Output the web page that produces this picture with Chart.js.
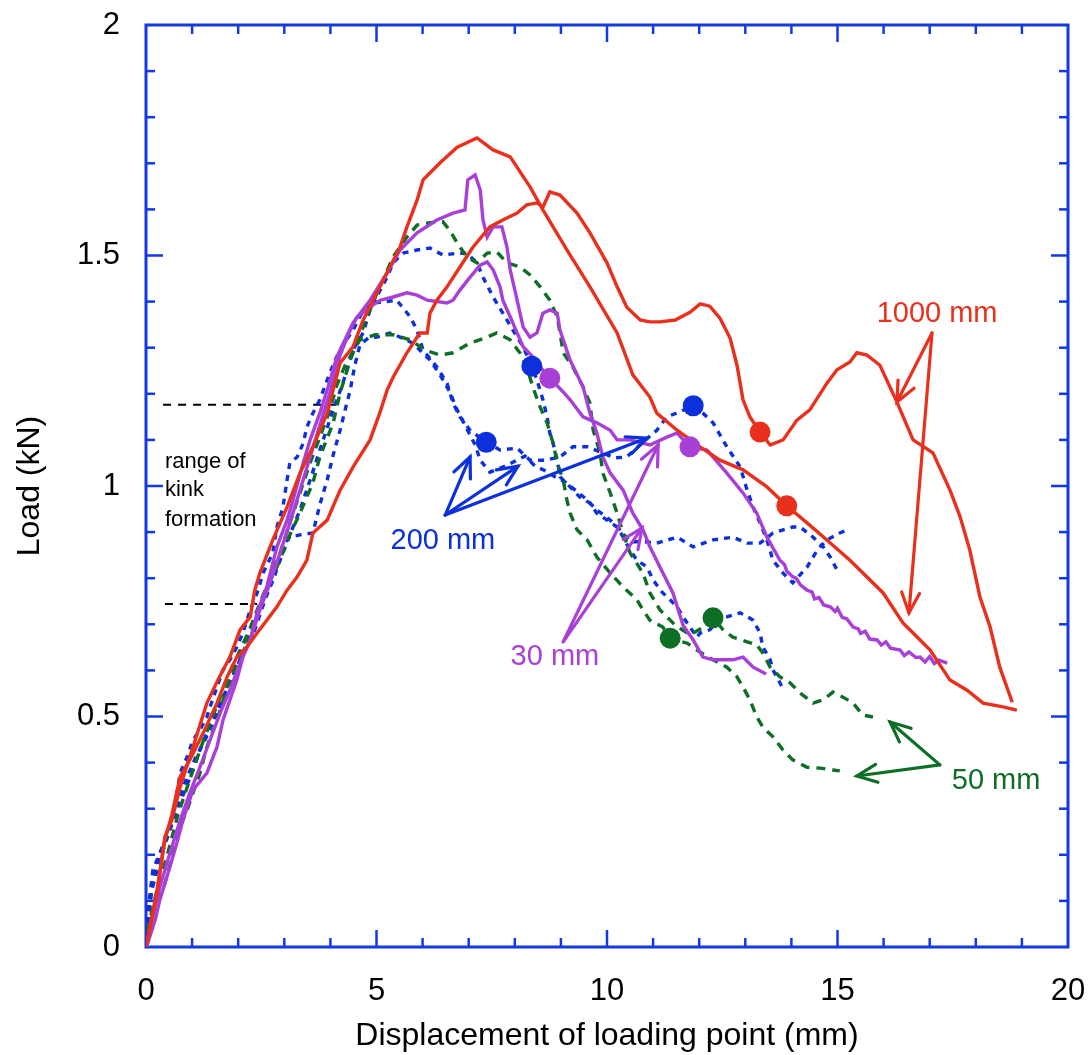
<!DOCTYPE html>
<html>
<head>
<meta charset="utf-8">
<title>Load vs displacement</title>
<script src="https://cdn.jsdelivr.net/npm/chart.js@4.4.1/dist/chart.umd.min.js"></script>
<style>
  html, body { margin: 0; padding: 0; background: #fff; }
  #wrap { width: 1092px; height: 1055px; }
</style>
</head>
<body>
<div id="wrap"><canvas id="loadChart" width="1092" height="1055"></canvas></div>
<script>
// load–displacement curves, [displacement mm, load kN]
const red1000a = [[0,0],[0.24,0.117],[0.41,0.239],[0.56,0.275],[0.74,0.347],[1.02,0.434],[1.32,0.529],[1.56,0.579],[1.82,0.629],[2.04,0.688],[2.26,0.716],[2.36,0.774],[2.47,0.811],[2.75,0.883],[3.06,0.954],[3.34,1.028],[3.62,1.085],[3.93,1.158],[4.21,1.267],[4.49,1.302],[4.71,1.36],[5.01,1.419],[5.29,1.475],[5.51,1.518],[5.66,1.562],[5.88,1.62],[6.01,1.664],[6.38,1.701],[6.75,1.735],[7.18,1.755],[7.53,1.729],[7.90,1.714],[8.33,1.649],[8.61,1.599],[9.13,1.512],[9.63,1.432],[10.22,1.332],[10.56,1.241],[10.93,1.193],[11.08,1.158],[11.52,1.121],[12.02,1.085],[12.45,1.056],[12.95,1.035],[13.47,0.998],[13.90,0.957],[14.34,0.92],[14.77,0.883],[15.27,0.839],[15.99,0.768],[16.42,0.703],[16.64,0.681],[17.01,0.644],[17.44,0.579],[17.81,0.557],[18.16,0.529],[18.59,0.521],[18.89,0.514]];
const red1000b = [[0,0],[0.24,0.124],[0.41,0.232],[0.56,0.286],[0.74,0.369],[0.95,0.406],[1.24,0.464],[1.54,0.529],[1.76,0.586],[1.97,0.629],[2.19,0.651],[2.41,0.681],[2.62,0.709],[2.84,0.738],[3.06,0.774],[3.28,0.803],[3.49,0.839],[3.62,0.898],[3.93,0.926],[4.21,0.991],[4.49,1.041],[4.86,1.1],[5.07,1.158],[5.23,1.208],[5.36,1.236],[5.66,1.289],[5.94,1.332],[6.10,1.332],[6.16,1.375],[6.31,1.403],[6.53,1.432],[6.81,1.475],[7.09,1.518],[7.46,1.562],[7.74,1.577],[8.05,1.592],[8.26,1.61],[8.48,1.614],[8.61,1.605],[8.76,1.638],[8.98,1.631],[9.35,1.592],[9.63,1.549],[10.0,1.484],[10.22,1.432],[10.43,1.388],[10.72,1.36],[10.93,1.356],[11.15,1.356],[11.48,1.36],[11.80,1.377],[12.02,1.395],[12.23,1.39],[12.45,1.364],[12.67,1.321],[12.82,1.262],[12.95,1.187],[13.10,1.15],[13.32,1.117],[13.54,1.089],[13.82,1.1],[14.12,1.143],[14.40,1.165],[14.77,1.223],[14.99,1.252],[15.27,1.269],[15.42,1.289],[15.64,1.284],[15.92,1.262],[16.29,1.182],[16.64,1.1],[17.07,1.072],[17.44,0.991],[17.66,0.933],[17.87,0.861],[18.09,0.759],[18.31,0.694],[18.52,0.607],[18.79,0.531]];
const purple30a = [[0,0],[0.04,0.009],[0.20,0.059],[0.30,0.102],[0.52,0.174],[0.67,0.226],[0.80,0.275],[1.02,0.341],[1.32,0.377],[1.54,0.434],[1.67,0.492],[1.82,0.536],[1.97,0.579],[2.10,0.629],[2.26,0.666],[2.41,0.725],[2.62,0.781],[2.84,0.868],[3.06,0.926],[3.19,0.97],[3.41,1.05],[3.56,1.1],[3.77,1.158],[3.93,1.208],[4.14,1.28],[4.49,1.354],[4.86,1.403],[5.23,1.462],[5.51,1.512],[5.88,1.549],[6.31,1.577],[6.66,1.592],[6.92,1.599],[6.98,1.664],[7.14,1.675],[7.25,1.642],[7.31,1.577],[7.40,1.54],[7.53,1.562],[7.72,1.562],[7.83,1.518],[7.90,1.469],[8.05,1.403],[8.18,1.345],[8.33,1.323],[8.48,1.332],[8.61,1.375],[8.76,1.382],[8.92,1.375],[8.98,1.338],[9.20,1.273],[9.48,1.215],[9.63,1.158],[9.78,1.115],[9.91,1.063],[10.07,1.028],[10.35,0.991],[10.56,0.941],[10.78,0.905],[10.93,0.868],[11.15,0.824],[11.43,0.768],[11.65,0.698],[11.87,0.666],[12.08,0.629],[12.30,0.623],[12.73,0.623],[12.95,0.629],[13.17,0.607],[13.45,0.592]];
const purple30b = [[0,0],[0.15,0.069],[0.30,0.13],[0.52,0.204],[0.74,0.275],[0.95,0.334],[1.17,0.39],[1.39,0.449],[1.61,0.508],[1.82,0.557],[2.04,0.616],[2.26,0.666],[2.47,0.731],[2.69,0.79],[2.91,0.855],[3.12,0.92],[3.34,0.991],[3.56,1.063],[3.77,1.132],[3.99,1.202],[4.21,1.284],[4.43,1.338],[4.58,1.367],[4.86,1.388],[5.08,1.403],[5.36,1.41],[5.66,1.419],[5.88,1.414],[6.10,1.403],[6.53,1.397],[6.66,1.403],[6.81,1.425],[7.03,1.453],[7.25,1.479],[7.40,1.486],[7.53,1.469],[7.68,1.432],[7.74,1.403],[7.90,1.367],[8.05,1.332],[8.18,1.302],[8.39,1.28],[8.55,1.258],[8.76,1.234],[9.05,1.204],[9.20,1.187],[9.48,1.15],[9.78,1.137],[10.07,1.121],[10.22,1.1],[10.50,1.1],[10.93,1.089],[11.30,1.106],[11.52,1.115],[11.80,1.085],[12.17,1.078],[12.60,1.028],[12.95,0.985],[13.25,0.941],[13.47,0.889],[13.75,0.839],[13.85,0.83],[13.9,0.815],[14.03,0.803],[14.1,0.8],[14.2,0.785],[14.34,0.774],[14.45,0.77],[14.5,0.755],[14.6,0.758],[14.7,0.742],[14.84,0.738],[14.95,0.728],[15.0,0.735],[15.1,0.715],[15.2,0.712],[15.34,0.694],[15.45,0.69],[15.5,0.68],[15.6,0.685],[15.7,0.668],[15.86,0.666],[15.95,0.655],[16.05,0.662],[16.15,0.648],[16.36,0.644],[16.45,0.632],[16.55,0.64],[16.7,0.628],[16.79,0.629],[16.9,0.618],[17.0,0.63],[17.1,0.615],[17.2,0.622],[17.38,0.616]];
const green50a = [[0,0],[0.09,0.048],[0.20,0.091],[0.37,0.124],[0.52,0.178],[0.74,0.26],[0.89,0.297],[1.02,0.334],[1.17,0.377],[1.32,0.434],[1.54,0.492],[1.76,0.564],[1.97,0.616],[2.19,0.672],[2.41,0.716],[2.54,0.759],[2.69,0.796],[2.84,0.824],[3.12,0.894],[3.34,0.941],[3.62,1.007],[3.77,1.063],[4.06,1.137],[4.21,1.202],[4.43,1.273],[4.71,1.345],[4.92,1.397],[5.14,1.447],[5.36,1.497],[5.66,1.54],[5.88,1.566],[6.16,1.571],[6.44,1.573],[6.59,1.555],[6.75,1.527],[6.96,1.497],[7.18,1.484],[7.40,1.505],[7.61,1.508],[7.83,1.484],[8.11,1.475],[8.33,1.458],[8.55,1.432],[8.76,1.403],[8.92,1.367],[8.98,1.332],[9.05,1.289],[9.26,1.258],[9.48,1.215],[9.63,1.18],[9.70,1.121],[9.85,1.072],[9.91,1.028],[10.07,0.985],[10.22,0.941],[10.35,0.898],[10.50,0.855],[10.78,0.811],[10.93,0.768],[11.15,0.731],[11.48,0.698],[11.80,0.677],[12.06,0.692],[12.30,0.714],[12.52,0.688],[12.73,0.672],[13.04,0.662],[13.25,0.655],[13.38,0.638],[13.54,0.607],[13.75,0.586],[13.97,0.573],[14.19,0.551],[14.47,0.529],[14.69,0.536],[14.90,0.553],[15.12,0.542],[15.34,0.529],[15.55,0.503],[15.77,0.499]];
const green50b = [[0,0],[0.04,0.037],[0.13,0.08],[0.24,0.124],[0.37,0.167],[0.52,0.221],[0.69,0.286],[0.85,0.334],[1.02,0.384],[1.17,0.427],[1.39,0.486],[1.61,0.542],[1.82,0.597],[2.04,0.644],[2.26,0.692],[2.47,0.746],[2.69,0.8],[2.91,0.855],[3.12,0.92],[3.34,0.985],[3.56,1.05],[3.77,1.106],[3.99,1.165],[4.14,1.219],[4.32,1.262],[4.64,1.317],[4.97,1.328],[5.36,1.328],[5.73,1.317],[6.05,1.295],[6.38,1.284],[6.66,1.289],[7.03,1.31],[7.40,1.323],[7.61,1.332],[7.90,1.317],[8.11,1.289],[8.26,1.258],[8.39,1.215],[8.55,1.171],[8.70,1.137],[8.83,1.093],[8.92,1.05],[9.05,1.013],[9.13,0.97],[9.20,0.941],[9.35,0.905],[9.57,0.883],[9.78,0.846],[10.07,0.811],[10.35,0.781],[10.65,0.753],[10.78,0.731],[10.93,0.709],[11.21,0.694],[11.37,0.67],[11.74,0.659],[11.95,0.644],[12.23,0.627],[12.60,0.607],[12.82,0.586],[12.95,0.564],[13.10,0.536],[13.25,0.499],[13.38,0.477],[13.60,0.456],[13.82,0.427],[14.03,0.406],[14.34,0.39],[14.62,0.388],[14.90,0.384],[15.05,0.382]];
const blue200a = [[0,0],[0.04,0.069],[0.13,0.124],[0.24,0.167],[0.37,0.21],[0.52,0.254],[0.67,0.297],[0.85,0.341],[1.02,0.384],[1.17,0.427],[1.39,0.482],[1.61,0.529],[1.82,0.573],[2.04,0.623],[2.26,0.677],[2.47,0.731],[2.69,0.785],[2.91,0.839],[3.12,0.894],[3.34,0.948],[3.56,1.013],[3.77,1.078],[4.06,1.165],[4.27,1.223],[4.49,1.295],[4.71,1.332],[4.86,1.382],[5.08,1.425],[5.23,1.453],[5.36,1.484],[5.57,1.505],[5.88,1.512],[6.16,1.516],[6.44,1.501],[6.75,1.505],[6.96,1.505],[7.18,1.484],[7.31,1.453],[7.53,1.41],[7.74,1.375],[7.96,1.338],[8.18,1.302],[8.37,1.26],[8.48,1.23],[8.61,1.187],[8.70,1.15],[8.76,1.115],[8.83,1.093],[8.92,1.056],[8.98,1.02],[9.20,0.998],[9.41,0.976],[9.63,0.963],[9.78,0.941],[10.0,0.926],[10.22,0.911],[10.35,0.889],[10.50,0.861],[10.65,0.839],[10.87,0.824],[11.0,0.796],[11.21,0.768],[11.37,0.753],[11.52,0.738],[11.65,0.716],[11.80,0.694],[11.95,0.672],[12.02,0.681],[12.23,0.688],[12.45,0.714],[12.60,0.716],[12.89,0.725],[13.17,0.709],[13.32,0.681],[13.38,0.651],[13.54,0.623],[13.60,0.601],[13.80,0.564]];
const blue200b = [[0,0],[0.02,0.059],[0.09,0.117],[0.15,0.167],[0.30,0.204],[0.46,0.239],[0.59,0.291],[0.67,0.334],[0.74,0.377],[0.89,0.412],[1.02,0.449],[1.17,0.471],[1.32,0.499],[1.39,0.521],[1.54,0.564],[1.67,0.601],[1.82,0.623],[1.97,0.651],[2.10,0.681],[2.26,0.731],[2.41,0.768],[2.54,0.811],[2.75,0.855],[2.84,0.911],[2.97,0.954],[3.06,1.013],[3.12,1.05],[3.28,1.063],[3.41,1.093],[3.49,1.128],[3.62,1.158],[3.77,1.187],[3.93,1.23],[4.10,1.273],[4.27,1.306],[4.49,1.338],[4.69,1.377],[4.86,1.397],[5.14,1.399],[5.44,1.403],[5.73,1.367],[5.88,1.338],[6.01,1.295],[6.31,1.258],[6.53,1.223],[6.66,1.18],[6.81,1.15],[7.03,1.121],[7.38,1.095],[7.68,1.078],[8.05,1.082],[8.33,1.056],[8.66,1.056],[8.98,1.063],[9.26,1.085],[9.57,1.085],[9.85,1.074],[10.17,1.061],[10.43,1.063],[10.78,1.095],[11.08,1.121],[11.30,1.15],[11.58,1.161],[11.87,1.174],[12.08,1.158],[12.30,1.137],[12.60,1.085],[12.89,1.041],[13.04,0.991],[13.17,0.954],[13.32,0.92],[13.47,0.883],[13.60,0.839],[13.82,0.811],[14.03,0.79],[14.34,0.824],[14.56,0.861],[14.77,0.883],[15.05,0.898],[15.21,0.905]];
const blue200c = [[0,0],[0.07,0.08],[0.15,0.145],[0.26,0.189],[0.41,0.232],[0.56,0.28],[0.74,0.33],[0.91,0.373],[1.08,0.412],[1.28,0.449],[1.50,0.499],[1.71,0.547],[1.93,0.597],[2.15,0.644],[2.36,0.688],[2.58,0.753],[2.80,0.807],[2.97,0.872],[3.12,0.889],[3.34,0.894],[3.62,0.898],[3.77,0.959],[3.93,1.013],[4.06,1.067],[4.21,1.121],[4.32,1.165],[4.43,1.208],[4.53,1.262],[4.64,1.306],[4.82,1.321],[5.01,1.323],[5.29,1.332],[5.51,1.323],[5.79,1.31],[5.94,1.295],[6.16,1.273],[6.38,1.241],[6.59,1.204],[6.75,1.165],[6.92,1.132],[7.14,1.089],[7.25,1.056],[7.46,1.03],[7.79,1.043],[8.22,1.065],[8.44,1.043],[8.66,1.033],[8.87,1.02],[9.09,1.009],[9.31,0.991],[9.52,0.974],[9.78,0.948],[10.07,0.926],[10.28,0.905],[10.50,0.879],[10.82,0.879],[11.08,0.876],[11.52,0.889],[11.87,0.868],[12.30,0.883],[12.73,0.889],[13.04,0.876],[13.32,0.876],[13.60,0.898],[14.03,0.911],[14.19,0.911],[14.47,0.889],[14.69,0.868],[14.84,0.846],[14.99,0.818]];

// kink formation markers
const kinkRed = [[13.32,1.117],[13.90,0.957]];
const kinkBlue = [[7.38,1.095],[8.37,1.26],[11.87,1.174]];
const kinkPurple = [[8.76,1.234],[11.80,1.085]];
const kinkGreen = [[11.37,0.67],[12.30,0.714]];

// range of kink formation (dashed guides)
const kinkUpper = [[0.37,1.176],[4.14,1.176]];
const kinkLower = [[0.41,0.744],[2.41,0.744]];

// labels: text, [x, y]; arrows: origin then arrow tips
const labels = [
  { text: '1000 mm', at: [17.16,1.373], color: 'red' },
  { text: '200 mm', at: [6.44,0.881], color: 'blue' },
  { text: '30 mm', at: [8.87,0.629], color: 'purple' },
  { text: '50 mm', at: [18.44,0.36], color: 'green' }
];
const arrows1000 = [[17.05,1.332],[16.29,1.182],[16.55,0.725]];
const arrows200 = [[6.49,0.937],[7.03,1.063],[8.07,1.043],[10.87,1.104]];
const arrows30 = [[9.05,0.662],[11.11,1.089],[10.76,0.909]];
const arrows50 = [[17.22,0.395],[16.14,0.488],[15.42,0.371]];
const kinkText = ['range of', 'kink', 'formation'];
const kinkTextAt = [[0.41,1.052],[0.41,0.991],[0.41,0.926]];

const xTicks = [0, 5, 10, 15, 20];
const yTicks = [0, 0.5, 1, 1.5, 2];

const COLORS = {
  red: '#e8301c',
  purple: '#a840d8',
  green: '#0f6e25',
  blue: '#0c30dc',
  axis: '#1438e4'
};
const FONT = "'Liberation Sans', Arial, Helvetica, sans-serif";

const pts = arr => arr.map(p => ({ x: p[0], y: p[1] }));

function curve(arr, color, dash) {
  return {
    data: pts(arr),
    showLine: true,
    borderColor: color,
    borderWidth: 3.4,
    borderDash: dash || [],
    pointRadius: 0,
    fill: false,
    tension: 0
  };
}

const dots = [
  ...kinkRed.map(p => ({ p, c: COLORS.red })),
  ...kinkBlue.map(p => ({ p, c: COLORS.blue })),
  ...kinkPurple.map(p => ({ p, c: COLORS.purple })),
  ...kinkGreen.map(p => ({ p, c: COLORS.green }))
];

// inward ticks on all four sides plus the blue frame
const frameTicks = {
  id: 'frameTicks',
  beforeDatasetsDraw(chart) {
    const { ctx, chartArea: a, scales: { x, y } } = chart;
    ctx.save();
    ctx.strokeStyle = COLORS.axis;
    ctx.lineWidth = 2.5;
    const seg = (x1, y1, x2, y2) => { ctx.beginPath(); ctx.moveTo(x1, y1); ctx.lineTo(x2, y2); ctx.stroke(); };
    for (let i = 1; i < 20; i++) {
      const px = x.getPixelForValue(i);
      const len = i % 5 === 0 ? 17 : 9;
      seg(px, a.bottom, px, a.bottom - len);
      seg(px, a.top, px, a.top + len);
    }
    for (let i = 1; i < 20; i++) {
      const py = y.getPixelForValue(i / 10);
      const len = i % 5 === 0 ? 17 : 9;
      seg(a.left, py, a.left + len, py);
      seg(a.right, py, a.right - len, py);
    }
    ctx.lineWidth = 3;
    ctx.strokeRect(a.left, a.top, a.right - a.left, a.bottom - a.top);
    ctx.restore();
  }
};

// arrows and text annotations
const annotations = {
  id: 'annotations',
  afterDatasetsDraw(chart) {
    const { ctx, scales: { x, y } } = chart;
    const P = v => [x.getPixelForValue(v[0]), y.getPixelForValue(v[1])];
    ctx.save();
    ctx.lineCap = 'round';
    const drawArrows = (set, color) => {
      const [ox, oy] = P(set[0]);
      ctx.strokeStyle = color;
      ctx.lineWidth = 3.2;
      set.slice(1).forEach(t => {
        const [tx, ty] = P(t);
        ctx.beginPath(); ctx.moveTo(ox, oy); ctx.lineTo(tx, ty); ctx.stroke();
        const ang = Math.atan2(ty - oy, tx - ox);
        const hl = 22, ha = 0.42;
        ctx.beginPath();
        ctx.moveTo(tx - hl * Math.cos(ang - ha), ty - hl * Math.sin(ang - ha));
        ctx.lineTo(tx, ty);
        ctx.lineTo(tx - hl * Math.cos(ang + ha), ty - hl * Math.sin(ang + ha));
        ctx.stroke();
      });
    };
    drawArrows(arrows1000, COLORS.red);
    drawArrows(arrows200, COLORS.blue);
    drawArrows(arrows30, COLORS.purple);
    drawArrows(arrows50, COLORS.green);

    ctx.textAlign = 'center';
    ctx.textBaseline = 'middle';
    ctx.font = '29px ' + FONT;
    labels.forEach(l => {
      const [lx, ly] = P(l.at);
      ctx.fillStyle = COLORS[l.color];
      ctx.fillText(l.text, lx, ly);
    });

    ctx.textAlign = 'left';
    ctx.fillStyle = '#000';
    ctx.font = '22px ' + FONT;
    kinkText.forEach((t, i) => {
      const [lx, ly] = P(kinkTextAt[i]);
      ctx.fillText(t, lx, ly);
    });
    ctx.restore();
  }
};

const ctx = document.getElementById('loadChart').getContext('2d');
const chart = new Chart(ctx, {
  type: 'scatter',
  data: {
    datasets: [
      {
        data: dots.map(d => ({ x: d.p[0], y: d.p[1] })),
        pointRadius: 10.5,
        pointBackgroundColor: dots.map(d => d.c),
        pointBorderWidth: 0,
        showLine: false
      },
      curve(red1000a, COLORS.red),
      curve(red1000b, COLORS.red),
      curve(purple30a, COLORS.purple),
      curve(purple30b, COLORS.purple),
      curve(green50a, COLORS.green, [9, 7]),
      curve(green50b, COLORS.green, [9, 7]),
      curve(blue200a, COLORS.blue, [6, 6]),
      curve(blue200b, COLORS.blue, [6, 6]),
      curve(blue200c, COLORS.blue, [6, 6]),
      { ...curve(kinkUpper, '#000', [8, 7]), borderWidth: 2 },
      { ...curve(kinkLower, '#000', [8, 7]), borderWidth: 2 }
    ]
  },
  options: {
    responsive: false,
    animation: false,
    layout: { padding: { top: 25, right: 24, left: 0, bottom: 0 } },
    plugins: { legend: { display: false }, tooltip: { enabled: false } },
    scales: {
      x: {
        type: 'linear',
        min: 0, max: 20,
        afterBuildTicks: s => { s.ticks = xTicks.map(v => ({ value: v })); },
        afterFit: s => { s.height = 108; s.paddingLeft = 0; s.paddingRight = 0; },
        grid: { display: false, drawTicks: false },
        border: { display: false },
        ticks: { color: '#000', padding: 26, font: { family: FONT, size: 31 }, callback: v => String(v) },
        title: {
          display: true,
          text: 'Displacement of loading point (mm)',
          color: '#000',
          padding: { top: 3, bottom: 0 },
          font: { family: FONT, size: 32 }
        }
      },
      y: {
        type: 'linear',
        min: 0, max: 2,
        afterBuildTicks: s => { s.ticks = yTicks.map(v => ({ value: v })); },
        afterFit: s => { s.width = 146; s.paddingTop = 0; s.paddingBottom = 0; },
        grid: { display: false, drawTicks: false },
        border: { display: false },
        ticks: { color: '#000', padding: 26, font: { family: FONT, size: 31 }, callback: v => String(v) },
        title: {
          display: true,
          text: 'Load (kN)',
          color: '#000',
          padding: { top: 11, bottom: 0 },
          font: { family: FONT, size: 32 }
        }
      }
    }
  },
  plugins: [frameTicks, annotations]
});
</script>
</body>
</html>
